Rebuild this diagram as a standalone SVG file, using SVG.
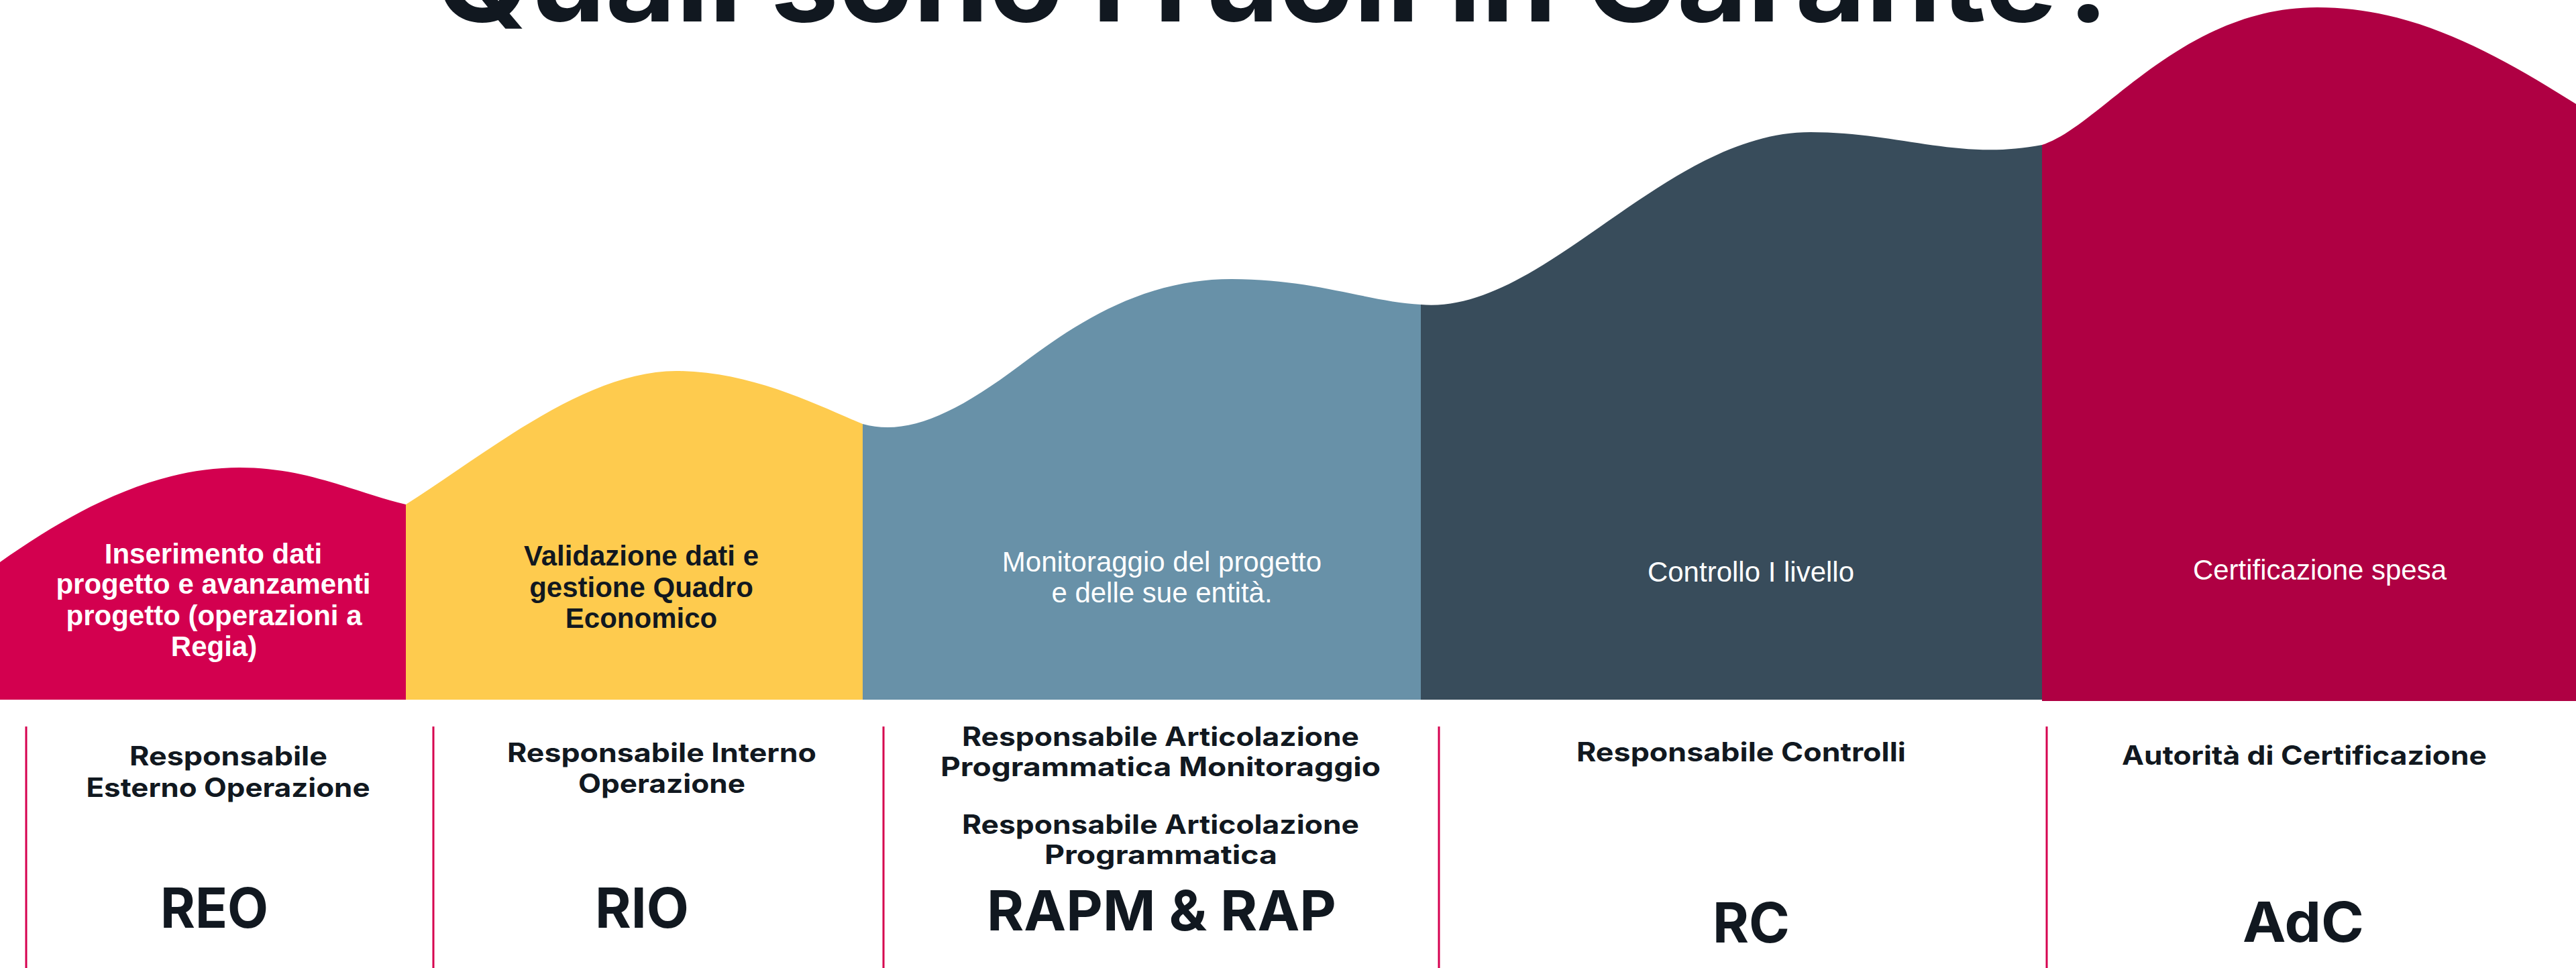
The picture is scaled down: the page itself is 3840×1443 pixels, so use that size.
<svg xmlns="http://www.w3.org/2000/svg" width="3840" height="1443" viewBox="0 0 3840 1443">
<style>
.title{font-family:Inter,"Liberation Sans",sans-serif;font-weight:700;font-size:170px;fill:#111820}
.lbl{font-family:"Liberation Sans",Arial,sans-serif;font-size:42px;text-anchor:middle}
.b{font-weight:700}
.w{fill:#ffffff}
.d{fill:#111820}
.role{font-family:Inter,"Liberation Sans",sans-serif;font-weight:700;font-size:39px;fill:#111820;text-anchor:middle}
.abbr{font-family:Inter,"Liberation Sans",sans-serif;font-weight:700;font-size:83px;fill:#111820;text-anchor:middle}
.sep{stroke:#D6004F;stroke-width:3;fill:none}
</style>
<rect width="3840" height="1443" fill="#ffffff"/>
<text class="title" x="649" y="32" textLength="2519" lengthAdjust="spacingAndGlyphs">Quali sono i ruoli in Garante?</text>

<g id="sec-reo">
<path fill="#D3004F" d="M0,838 C110,760 230,697 357,697 C460,697 530,735 605,752 L605,1043 L0,1043 Z"/>
<text class="lbl b w" x="318" y="840">Inserimento dati</text>
<text class="lbl b w" x="318" y="885">progetto e avanzamenti</text>
<text class="lbl b w" x="319" y="932">progetto (operazioni a</text>
<text class="lbl b w" x="319" y="978">Regia)</text>
</g>

<g id="sec-rio">
<path fill="#FECB4E" d="M605,752 C720,680 870,553 1008,553 C1120,553 1220,605 1286,632 L1286,1043 L605,1043 Z"/>
<text class="lbl b d" x="956" y="843">Validazione dati e</text>
<text class="lbl b d" x="956" y="890">gestione Quadro</text>
<text class="lbl b d" x="956" y="936">Economico</text>
</g>

<g id="sec-rapm">
<path fill="#6891A8" d="M1286,632 C1350,650 1420,620 1520,545 C1600,485 1700,416 1836,416 C1960,416 2040,450 2118,454 L2118,1043 L1286,1043 Z"/>
<text class="lbl w" x="1732" y="852">Monitoraggio del progetto</text>
<text class="lbl w" x="1732" y="898">e delle sue entità.</text>
</g>

<g id="sec-rc">
<path fill="#384C5B" d="M2118,454 C2300,470 2480,197 2699,197 C2830,197 2920,240 3044,216 L3044,1043 L2118,1043 Z"/>
<text class="lbl w" x="2610" y="867">Controllo I livello</text>
</g>

<g id="sec-adc">
<path fill="#AF0043" d="M3044,216 C3130,190 3250,11 3454,11 C3600,11 3720,80 3840,155 L3840,1045 L3044,1045 Z"/>
<text class="lbl w" x="3458" y="864">Certificazione spesa</text>
</g>

<g id="separators">
<line class="sep" x1="39" y1="1083" x2="39" y2="1443"/>
<line class="sep" x1="646" y1="1083" x2="646" y2="1443"/>
<line class="sep" x1="1317" y1="1083" x2="1317" y2="1443"/>
<line class="sep" x1="2145" y1="1083" x2="2145" y2="1443"/>
<line class="sep" x1="3051" y1="1083" x2="3051" y2="1443"/>
</g>

<g id="role-reo">
<text class="role" x="340.5" y="1141" textLength="295" lengthAdjust="spacingAndGlyphs">Responsabile</text>
<text class="role" x="340" y="1188" textLength="423" lengthAdjust="spacingAndGlyphs">Esterno Operazione</text>
<text class="abbr" x="319.5" y="1383" textLength="161" lengthAdjust="spacingAndGlyphs">REO</text>
</g>

<g id="role-rio">
<text class="role" x="986.5" y="1136" textLength="461" lengthAdjust="spacingAndGlyphs">Responsabile Interno</text>
<text class="role" x="986.5" y="1182" textLength="249" lengthAdjust="spacingAndGlyphs">Operazione</text>
<text class="abbr" x="957" y="1383" textLength="140" lengthAdjust="spacingAndGlyphs">RIO</text>
</g>

<g id="role-rapm">
<text class="role" x="1730" y="1112" textLength="592" lengthAdjust="spacingAndGlyphs">Responsabile Articolazione</text>
<text class="role" x="1730" y="1157" textLength="656" lengthAdjust="spacingAndGlyphs">Programmatica Monitoraggio</text>
<text class="role" x="1730" y="1243" textLength="592" lengthAdjust="spacingAndGlyphs">Responsabile Articolazione</text>
<text class="role" x="1730.5" y="1288" textLength="347" lengthAdjust="spacingAndGlyphs">Programmatica</text>
<text class="abbr" x="1731.5" y="1387" textLength="521" lengthAdjust="spacingAndGlyphs">RAPM &amp; RAP</text>
</g>

<g id="role-rc">
<text class="role" x="2595.5" y="1135" textLength="491" lengthAdjust="spacingAndGlyphs">Responsabile Controlli</text>
<text class="abbr" x="2610.5" y="1405" textLength="115" lengthAdjust="spacingAndGlyphs">RC</text>
</g>

<g id="role-adc">
<text class="role" x="3435" y="1140" textLength="544" lengthAdjust="spacingAndGlyphs">Autorità di Certificazione</text>
<text class="abbr" x="3433.5" y="1404" textLength="181" lengthAdjust="spacingAndGlyphs">AdC</text>
</g>
</svg>
